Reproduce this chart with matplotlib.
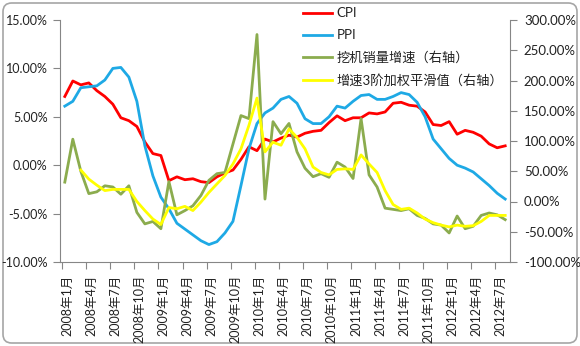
import matplotlib
matplotlib.use('Agg')
import matplotlib.pyplot as plt
import numpy as np
from matplotlib.patches import FancyBboxPatch

plt.rcParams['font.family'] = ['Lato', 'Noto Sans CJK SC', 'DejaVu Sans']

# 月度数据：2008年1月 - 2012年8月
tick_labels = ['2008年1月', '2008年4月', '2008年7月', '2008年10月',
               '2009年1月', '2009年4月', '2009年7月', '2009年10月',
               '2010年1月', '2010年4月', '2010年7月', '2010年10月',
               '2011年1月', '2011年4月', '2011年7月', '2011年10月',
               '2012年1月', '2012年4月', '2012年7月']

cpi = [7.1, 8.7, 8.3, 8.5, 7.7, 7.1, 6.3, 4.9, 4.6, 4.0, 2.4, 1.2,
       1.0, -1.6, -1.2, -1.5, -1.4, -1.7, -1.8, -1.2, -0.8, -0.5, 0.6, 1.9,
       1.5, 2.7, 2.4, 2.8, 3.1, 2.9, 3.3, 3.5, 3.6, 4.4, 5.1, 4.6,
       4.9, 4.9, 5.4, 5.3, 5.5, 6.4, 6.5, 6.2, 6.1, 5.5, 4.2, 4.1,
       4.5, 3.2, 3.6, 3.4, 3.0, 2.2, 1.8, 2.0]

ppi = [6.1, 6.6, 8.0, 8.1, 8.2, 8.8, 10.0, 10.1, 9.1, 6.6, 2.0, -1.1,
       -3.3, -4.5, -6.0, -6.6, -7.2, -7.8, -8.2, -7.9, -7.0, -5.8, -2.1, 1.7,
       4.3, 5.4, 5.9, 6.8, 7.1, 6.4, 4.8, 4.3, 4.3, 5.0, 6.1, 5.9,
       6.6, 7.2, 7.3, 6.8, 6.8, 7.1, 7.5, 7.3, 6.5, 5.0, 2.7, 1.7,
       0.7, 0.0, -0.3, -0.7, -1.4, -2.1, -2.9, -3.5]

# 挖机销量增速（右轴，%）
excavator = [32, 103, 50, 13, 16, 26, 24, 12, 26, -18, -37, -33,
             -45, 33, -22, -15, -7, 10, 35, 46, 48, 95, 142, 137,
             276, 4, 132, 112, 129, 82, 55, 41, 46, 40, 65, 57,
             38, 137, 44, 24, -11, -13, -15, -12, -23, -28, -37, -39,
             -52, -24, -45, -41, -23, -19, -22, -30]

# 增速3阶加权平滑值（右轴，%），前两个月无值
smooth = [np.nan, np.nan, 52, 37, 27, 18, 20, 20, 20, 0, -15, -29,
          -38, -10, -12, -8, -15, -1, 15, 29, 43, 62, 87, 126,
          171, 82, 98, 93, 120, 106, 87, 57, 48, 44, 53, 54,
          53, 77, 62, 48, 18, -5, -13, -11, -19, -29, -35, -39,
          -42, -39, -41, -40, -33, -23, -23, -23]

x = np.arange(len(cpi))
axis_color = '#868686'

fig = plt.figure(figsize=(5.8, 3.46), dpi=100)
fig.patch.set_facecolor('white')

# 圆角外框
frame = FancyBboxPatch((3 / 580, 3 / 346), 574 / 580, 340 / 346,
                       boxstyle='round,pad=0,rounding_size=0.015',
                       mutation_aspect=580 / 346,
                       transform=fig.transFigure, fc='white', ec='#a6a6a6',
                       lw=1.2, zorder=-5)
fig.patches.append(frame)

ax = fig.add_axes([60 / 580, 1 - 262 / 346, 450 / 580, 242 / 346])
ax.patch.set_alpha(0)

l1, = ax.plot(x, cpi, color='#ff0000', lw=2.0, label='CPI')
l2, = ax.plot(x, ppi, color='#1ea9e5', lw=2.0, label='PPI')

ax2 = ax.twinx()
l3, = ax2.plot(x, excavator, color='#8bac4e', lw=2.0, label='挖机销量增速（右轴）')
l4, = ax2.plot(x, smooth, color='#ffff00', lw=2.0, label='增速3阶加权平滑值（右轴）')

ax.set_xlim(-0.6, 55.6)
ax.set_ylim(-10, 15)
ax2.set_ylim(-100, 300)

ax.set_yticks(np.arange(-10, 16, 5))
ax.set_yticklabels([f'{v:.2f}%' for v in np.arange(-10, 16, 5)])
ax2.set_yticks(np.arange(-100, 301, 50))
ax2.set_yticklabels([f'{v:.2f}%' for v in np.arange(-100, 301, 50)])

# 刻度线与标签分开放置
ax.set_xticks(np.arange(0, 55, 3) - 0.3)
ax.set_xticklabels([])
ax.set_xticks(np.arange(0, 55, 3) + 0.35, minor=True)
ax.set_xticklabels(tick_labels, minor=True, rotation=90, fontsize=9)
ax.tick_params(axis='x', which='major', length=5, color=axis_color)
ax.tick_params(axis='x', which='minor', length=0, pad=9, labelcolor='#222222')

ax.tick_params(axis='y', length=5, pad=4, color=axis_color, labelsize=9,
               labelcolor='#222222')
ax2.tick_params(axis='y', length=5, pad=5, color=axis_color, labelsize=9.5,
                labelcolor='#222222')

for s in ['top', 'right']:
    ax.spines[s].set_visible(False)
for s in ['top', 'left', 'bottom']:
    ax2.spines[s].set_visible(False)
ax.spines['left'].set_color(axis_color)
ax.spines['bottom'].set_color(axis_color)
ax2.spines['right'].set_color(axis_color)

fig.legend([l1, l2, l3, l4], [l.get_label() for l in [l1, l2, l3, l4]],
           loc='upper left', bbox_to_anchor=(298 / 580, 1 - 2 / 346),
           frameon=False, fontsize=9.5, handlelength=2.2, handletextpad=0.3,
           labelspacing=0.75, borderaxespad=0, labelcolor='#222222')

fig.savefig('out.png', dpi=100)
